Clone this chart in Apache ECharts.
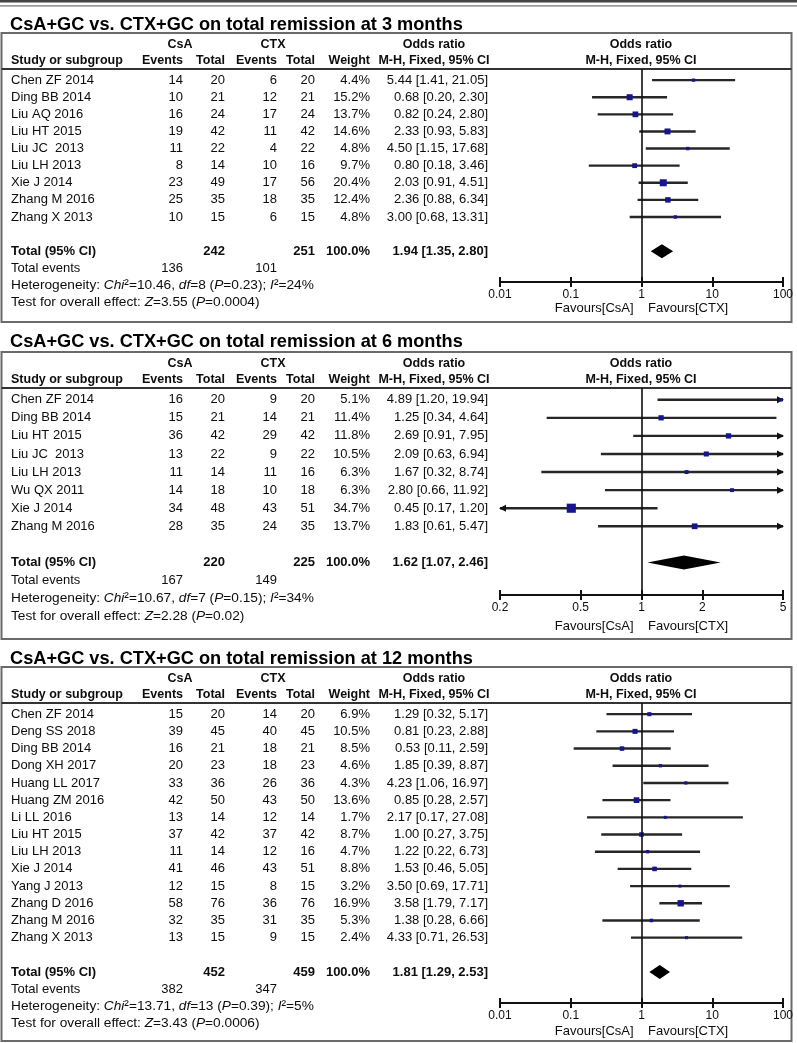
<!DOCTYPE html>
<html><head><meta charset="utf-8">
<script src="https://cdn.jsdelivr.net/npm/echarts@6/dist/echarts.min.js"></script>
<style>html,body{margin:0;padding:0;background:#fff}#c{width:797px;height:1043px}</style>
</head><body><div id="c"></div>
<script>
// ---------- Panel A: 3 months ----------
const titleA = 'CsA+GC vs. CTX+GC on total remission at 3 months';
const studiesA = ['Chen ZF 2014','Ding BB 2014','Liu AQ 2016','Liu HT 2015','Liu JC  2013','Liu LH 2013','Xie J 2014','Zhang M 2016','Zhang X 2013'];
const csaEventsA = [14,10,16,19,11,8,23,25,10];
const csaTotalA  = [20,21,24,42,22,14,49,35,15];
const ctxEventsA = [6,12,17,11,4,10,17,18,6];
const ctxTotalA  = [20,21,24,42,22,16,56,35,15];
const weightA = [4.4,15.2,13.7,14.6,4.8,9.7,20.4,12.4,4.8];
const orA = [5.44,0.68,0.82,2.33,4.50,0.80,2.03,2.36,3.00];
const loA = [1.41,0.20,0.24,0.93,1.15,0.18,0.91,0.88,0.68];
const hiA = [21.05,2.30,2.80,5.83,17.68,3.46,4.51,6.34,13.31];
const totalsA = [242,251];
const pooledA = [1.94,1.35,2.80];
const eventsA = [136,101];
const hetA = ['10.46','8','0.23','24'];
const testA = ['3.55','0.0004'];
const ticksA = [0.01,0.1,1,10,100];
const tickLabelsA = ['0.01','0.1','1','10','100'];

// ---------- Panel B: 6 months ----------
const titleB = 'CsA+GC vs. CTX+GC on total remission at 6 months';
const studiesB = ['Chen ZF 2014','Ding BB 2014','Liu HT 2015','Liu JC  2013','Liu LH 2013','Wu QX 2011','Xie J 2014','Zhang M 2016'];
const csaEventsB = [16,15,36,13,11,14,34,28];
const csaTotalB  = [20,21,42,22,14,18,48,35];
const ctxEventsB = [9,14,29,9,11,10,43,24];
const ctxTotalB  = [20,21,42,22,16,18,51,35];
const weightB = [5.1,11.4,11.8,10.5,6.3,6.3,34.7,13.7];
const orB = [4.89,1.25,2.69,2.09,1.67,2.80,0.45,1.83];
const loB = [1.20,0.34,0.91,0.63,0.32,0.66,0.17,0.61];
const hiB = [19.94,4.64,7.95,6.94,8.74,11.92,1.20,5.47];
const totalsB = [220,225];
const pooledB = [1.62,1.07,2.46];
const eventsB = [167,149];
const hetB = ['10.67','7','0.15','34'];
const testB = ['2.28','0.02'];
const ticksB = [0.2,0.5,1,2,5];
const tickLabelsB = ['0.2','0.5','1','2','5'];

// ---------- Panel C: 12 months ----------
const titleC = 'CsA+GC vs. CTX+GC on total remission at 12 months';
const studiesC = ['Chen ZF 2014','Deng SS 2018','Ding BB 2014','Dong XH 2017','Huang LL 2017','Huang ZM 2016','Li LL 2016','Liu HT 2015','Liu LH 2013','Xie J 2014','Yang J 2013','Zhang D 2016','Zhang M 2016','Zhang X 2013'];
const csaEventsC = [15,39,16,20,33,42,13,37,11,41,12,58,32,13];
const csaTotalC  = [20,45,21,23,36,50,14,42,14,46,15,76,35,15];
const ctxEventsC = [14,40,18,18,26,43,12,37,12,43,8,36,31,9];
const ctxTotalC  = [20,45,21,23,36,50,14,42,16,51,15,76,35,15];
const weightC = [6.9,10.5,8.5,4.6,4.3,13.6,1.7,8.7,4.7,8.8,3.2,16.9,5.3,2.4];
const orC = [1.29,0.81,0.53,1.85,4.23,0.85,2.17,1.00,1.22,1.53,3.50,3.58,1.38,4.33];
const loC = [0.32,0.23,0.11,0.39,1.06,0.28,0.17,0.27,0.22,0.46,0.69,1.79,0.28,0.71];
const hiC = [5.17,2.88,2.59,8.87,16.97,2.57,27.08,3.75,6.73,5.05,17.71,7.17,6.66,26.53];
const totalsC = [452,459];
const pooledC = [1.81,1.29,2.53];
const eventsC = [382,347];
const hetC = ['13.71','13','0.39','5'];
const testC = ['3.43','0.0006'];
const ticksC = [0.01,0.1,1,10,100];
const tickLabelsC = ['0.01','0.1','1','10','100'];

// ---------- build ----------
const FONT = '"Liberation Sans", Arial, sans-serif';
const TXT = '#0d0d0d';
const panels = [
  {title:titleA, studies:studiesA, ce:csaEventsA, ct:csaTotalA, xe:ctxEventsA, xt:ctxTotalA, w:weightA, or:orA, lo:loA, hi:hiA, totals:totalsA, pooled:pooledA, events:eventsA, het:hetA, test:testA, ticks:ticksA, labels:tickLabelsA},
  {title:titleB, studies:studiesB, ce:csaEventsB, ct:csaTotalB, xe:ctxEventsB, xt:ctxTotalB, w:weightB, or:orB, lo:loB, hi:hiB, totals:totalsB, pooled:pooledB, events:eventsB, het:hetB, test:testB, ticks:ticksB, labels:tickLabelsB},
  {title:titleC, studies:studiesC, ce:csaEventsC, ct:csaTotalC, xe:ctxEventsC, xt:ctxTotalC, w:weightC, or:orC, lo:loC, hi:hiC, totals:totalsC, pooled:pooledC, events:eventsC, het:hetC, test:testC, ticks:ticksC, labels:tickLabelsC}
];
const layout = [
  {titleY:25, boxTop:33, boxBottom:322, lineY:69, axisY:282, nameGap:20},
  {titleY:342, boxTop:352, boxBottom:639, lineY:388, axisY:595, nameGap:25},
  {titleY:659, boxTop:667, boxBottom:1041, lineY:703, axisY:1003, nameGap:22}
];
const COL = {study:11, ce:183, ct:225, xe:277, xt:315, w:370, or:488, csaHead:180, ctxHead:273, orHead:434, plotHead:641};
const PLOT_L = 500, PLOT_R = 783;
const FS = 13, FS2 = 13.7;

function f2(v){ return v.toFixed(2); }
function orText(o,l,h){ return f2(o)+' ['+f2(l)+', '+f2(h)+']'; }
function txt(x, y, s, align, bold, size){
  return {type:'text', style:{x:x, y:y, text:String(s), fontSize:size||FS, fontFamily:FONT, fontWeight:bold?'bold':'normal', fill:TXT, align:align, verticalAlign:'middle'}};
}

function rowsRender(p){
  return function(params, api){
    const i = params.dataIndex;
    const y = api.coord([1, api.value(1)])[1];
    return {type:'group', children:[
      txt(COL.study, y, p.studies[i], 'left'),
      txt(COL.ce, y, p.ce[i], 'right'),
      txt(COL.ct, y, p.ct[i], 'right'),
      txt(COL.xe, y, p.xe[i], 'right'),
      txt(COL.xt, y, p.xt[i], 'right'),
      txt(COL.w, y, p.w[i].toFixed(1)+'%', 'right'),
      txt(COL.or, y, orText(p.or[i], p.lo[i], p.hi[i]), 'right')
    ]};
  };
}

function ciRender(p, xmin, xmax){
  return function(params, api){
    const row = api.value(1);
    const o = api.value(0), lo = api.value(2), hi = api.value(3), w = api.value(4);
    const c = api.coord([o, row]);
    const y = c[1], xc = c[0];
    const x1 = api.coord([Math.max(lo, xmin), row])[0];
    const x2 = api.coord([Math.min(hi, xmax), row])[0];
    const ch = [{type:'line', shape:{x1:x1, y1:y, x2:x2, y2:y}, style:{stroke:'#262626', lineWidth:2.4}}];
    if (hi > xmax) ch.push({type:'polygon', shape:{points:[[x2+1,y],[x2-6,y-3.5],[x2-6,y+3.5]]}, style:{fill:'#111'}});
    if (lo < xmin) ch.push({type:'polygon', shape:{points:[[x1-1,y],[x1+6,y-3.5],[x1+6,y+3.5]]}, style:{fill:'#111'}});
    const s = Math.max(3, 1.55*Math.sqrt(w));
    ch.push({type:'rect', shape:{x:xc-s/2, y:y-s/2, width:s, height:s}, style:{fill:'#15158e'}});
    return {type:'group', children:ch};
  };
}

function sumRender(p){
  return function(params, api){
    const row = api.value(1);
    const c = api.coord([api.value(0), row]);
    const y = c[1], xc = c[0];
    const xl = api.coord([api.value(2), row])[0];
    const xh = api.coord([api.value(3), row])[0];
    const y2 = api.coord([1, row+1])[1];
    const y3 = api.coord([1, row+2])[1];
    const y4 = api.coord([1, row+3])[1];
    const rich = {
      n:{fontSize:FS2, fontFamily:FONT, fill:TXT},
      i:{fontSize:FS2, fontFamily:FONT, fill:TXT, fontStyle:'italic'}
    };
    const h = p.het, t = p.test;
    return {type:'group', children:[
      {type:'polygon', shape:{points:[[xl,y],[xc,y-7],[xh,y],[xc,y+7]]}, style:{fill:'#000'}},
      txt(COL.study, y, 'Total (95% CI)', 'left', true),
      txt(COL.ct, y, p.totals[0], 'right', true),
      txt(COL.xt, y, p.totals[1], 'right', true),
      txt(COL.w, y, '100.0%', 'right', true),
      txt(COL.or, y, orText(p.pooled[0], p.pooled[1], p.pooled[2]), 'right', true),
      txt(COL.study, y2, 'Total events', 'left'),
      txt(COL.ce, y2, p.events[0], 'right'),
      txt(COL.xe, y2, p.events[1], 'right'),
      {type:'text', style:{x:COL.study, y:y3, verticalAlign:'middle', align:'left', fontSize:FS2, fontFamily:FONT, fill:TXT, rich:rich,
        text:'{n|Heterogeneity: }{i|Chi}{n|\u00b2='+h[0]+', }{i|df}{n|='+h[1]+' (}{i|P}{n|='+h[2]+'); }{i|I}{n|\u00b2='+h[3]+'%}'}},
      {type:'text', style:{x:COL.study, y:y4, verticalAlign:'middle', align:'left', fontSize:FS2, fontFamily:FONT, fill:TXT, rich:rich,
        text:'{n|Test for overall effect: }{i|Z}{n|='+t[0]+' (}{i|P}{n|='+t[1]+')}'}}
    ]};
  };
}

const grids = [], xAxes = [], yAxes = [], series = [], graphics = [];
// top double rule
graphics.push({type:'line', shape:{x1:0,y1:1.3,x2:797,y2:1.3}, style:{stroke:'#444', lineWidth:2.6}});
graphics.push({type:'line', shape:{x1:0,y1:5.8,x2:797,y2:5.8}, style:{stroke:'#999', lineWidth:1.8}});

panels.forEach(function(p, k){
  const L = layout[k];
  const n = p.studies.length;
  const xmin = p.ticks[0], xmax = p.ticks[p.ticks.length-1];
  const gh = L.axisY - L.lineY;
  grids.push({left:PLOT_L, width:PLOT_R-PLOT_L, top:L.lineY, height:gh});
  const fmt = function(v){
    for (let j=0;j<p.ticks.length;j++) if (Math.abs(v-p.ticks[j]) < p.ticks[j]*1e-6) return p.labels[j];
    return '';
  };
  // main axis (bottom): line, downward ticks, labels, name
  xAxes.push({gridIndex:k, type:'log', logBase:10, min:xmin, max:xmax, position:'bottom',
    axisLine:{show:true, onZero:false, lineStyle:{color:'#111', width:2}},
    axisTick:{show:true, inside:false, length:5, customValues:p.ticks, lineStyle:{color:'#111', width:2}},
    axisLabel:{show:true, customValues:p.ticks, formatter:fmt, fontSize:12, fontFamily:FONT, color:TXT, margin:7},
    splitLine:{show:false}, minorTick:{show:false},
    name:'Favours[CsA]    Favours[CTX]', nameLocation:'middle', nameGap:L.nameGap,
    nameTextStyle:{fontSize:13, fontFamily:FONT, color:TXT}
  });
  // companion axis moved onto the bottom line: upward ticks
  xAxes.push({gridIndex:k, type:'log', logBase:10, min:xmin, max:xmax, position:'top', offset:-gh,
    axisLine:{show:false, onZero:false},
    axisTick:{show:true, inside:false, length:5, customValues:p.ticks, lineStyle:{color:'#111', width:2}},
    axisLabel:{show:false}, splitLine:{show:false}
  });
  yAxes.push({gridIndex:k, type:'value', inverse:true, min:-0.65, max:n+2.8, show:false});
  const xi = k*2;
  series.push({type:'custom', xAxisIndex:xi, yAxisIndex:k, clip:false, silent:true,
    data:p.studies.map(function(s,i){ return [1, i]; }), renderItem:rowsRender(p)});
  series.push({type:'custom', xAxisIndex:xi, yAxisIndex:k, clip:false, silent:true,
    data:p.or.map(function(v,i){ return [v, i, p.lo[i], p.hi[i], p.w[i]]; }), renderItem:ciRender(p, xmin, xmax),
    markLine:{silent:true, symbol:'none', label:{show:false}, lineStyle:{color:'#111', width:1.6, type:'solid'}, data:[{xAxis:1}]}});
  series.push({type:'custom', xAxisIndex:xi, yAxisIndex:k, clip:false, silent:true,
    data:[[p.pooled[0], n+1, p.pooled[1], p.pooled[2]]], renderItem:sumRender(p)});

  // frame, title, headers
  graphics.push({type:'text', x:10, y:L.titleY, style:{text:p.title, fontSize:18.2, fontWeight:'bold', fontFamily:FONT, fill:'#000', align:'left', verticalAlign:'middle'}});
  graphics.push({type:'rect', shape:{x:1.5, y:L.boxTop, width:790, height:L.boxBottom-L.boxTop}, style:{fill:'none', stroke:'#6a6a6a', lineWidth:2}});
  graphics.push({type:'line', shape:{x1:1.5, y1:L.lineY, x2:791.5, y2:L.lineY}, style:{stroke:'#333', lineWidth:2}});
  const h1 = L.lineY-24, h2 = L.lineY-8;
  const hb = function(x, y, s, align){ return {type:'text', x:x, y:y, style:{text:s, fontSize:12.5, fontWeight:'bold', fontFamily:FONT, fill:TXT, align:align, verticalAlign:'middle'}}; };
  graphics.push(hb(COL.csaHead, h1, 'CsA', 'center'));
  graphics.push(hb(COL.ctxHead, h1, 'CTX', 'center'));
  graphics.push(hb(COL.orHead, h1, 'Odds ratio', 'center'));
  graphics.push(hb(COL.plotHead, h1, 'Odds ratio', 'center'));
  graphics.push(hb(COL.study, h2, 'Study or subgroup', 'left'));
  graphics.push(hb(COL.ce, h2, 'Events', 'right'));
  graphics.push(hb(COL.ct, h2, 'Total', 'right'));
  graphics.push(hb(COL.xe, h2, 'Events', 'right'));
  graphics.push(hb(COL.xt, h2, 'Total', 'right'));
  graphics.push(hb(COL.w, h2, 'Weight', 'right'));
  graphics.push(hb(COL.orHead, h2, 'M-H, Fixed, 95% CI', 'center'));
  graphics.push(hb(COL.plotHead, h2, 'M-H, Fixed, 95% CI', 'center'));
});

const chart = echarts.init(document.getElementById('c'), null, {renderer:'canvas'});
chart.setOption({
  animation:false,
  backgroundColor:'#fff',
  grid:grids, xAxis:xAxes, yAxis:yAxes, series:series,
  graphic:{elements:graphics}
});
</script>
</body></html>
